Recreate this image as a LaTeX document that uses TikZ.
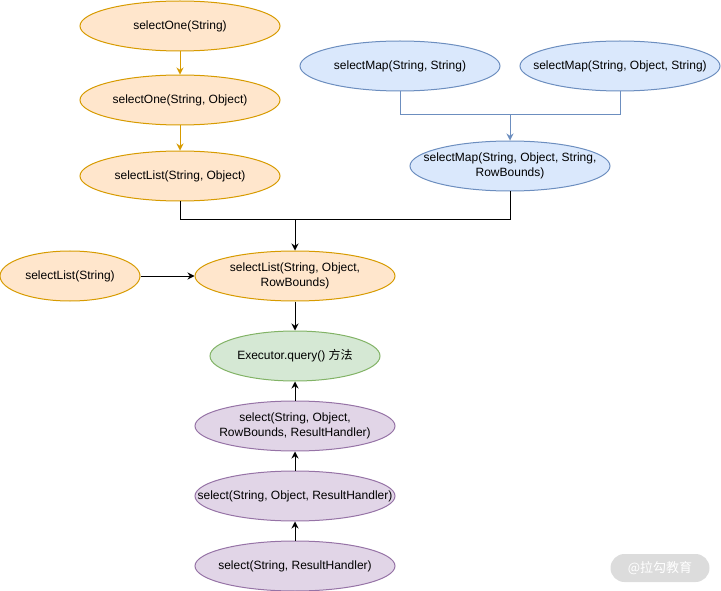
\documentclass[tikz,border=0pt]{standalone}
\usepackage{fontspec}
\setmainfont{Liberation Sans}
\newfontfamily\cjk{Noto Sans CJK SC}
\usetikzlibrary{shapes.geometric,arrows.meta}
\definecolor{ofill}{HTML}{FFE6CC}\definecolor{ostroke}{HTML}{D79B00}
\definecolor{bfill}{HTML}{DAE8FC}\definecolor{bstroke}{HTML}{6C8EBF}
\definecolor{gfill}{HTML}{D5E8D4}\definecolor{gstroke}{HTML}{82B366}
\definecolor{pfill}{HTML}{E1D5E7}\definecolor{pstroke}{HTML}{9673A6}
\definecolor{wmfill}{HTML}{DCDCDC}
\tikzset{
  ell/.style={ellipse, inner sep=0pt, minimum width=200pt, minimum height=50pt, line width=1pt},
  oell/.style={ell, draw=ostroke, fill=ofill},
  bell/.style={ell, draw=bstroke, fill=bfill},
  gell/.style={ell, draw=gstroke, fill=gfill},
  pell/.style={ell, draw=pstroke, fill=pfill},
  txt/.style={align=center, inner sep=0pt, font=\fontsize{12}{15}\selectfont},
  arr/.style={line width=1pt, -{Stealth[length=7pt,width=7pt]}},
  ln/.style={line width=1pt},
}
\begin{document}
\begin{tikzpicture}[x=1pt,y=-1pt]
\useasboundingbox (0,0) rectangle (721,591);
% orange column
\node[oell] (a1) at (180,26) {};
\node[txt] (a1t) at (a1) {selectOne(String)};
\node[oell] (a2) at (180,100) {};
\node[txt] (a2t) at (a2) {selectOne(String, Object)};
\node[oell] (a3) at (180,176) {};
\node[txt] (a3t) at (a3) {selectList(String, Object)};
% blue
\node[bell] (m1) at (400,66) {};
\node[txt] (m1t) at (m1) {selectMap(String, String)};
\node[bell] (m2) at (620,66) {};
\node[txt] (m2t) at (m2) {selectMap(String, Object, String)};
\node[bell] (m3) at (510,166) {};
\node[txt] (m3t) at (m3) {selectMap(String, Object, String,\\RowBounds)};
% middle
\node[oell, minimum width=140pt] (l0) at (70,276) {};
\node[txt] (l0t) at (l0) {selectList(String)};
\node[oell] (l4) at (295,276) {};
\node[txt] (l4t) at (l4) {selectList(String, Object,\\RowBounds)};
\node[gell, minimum width=170pt] (ex) at (295,356) {};
\node[txt] (ext) at (ex) {Executor.query() {\cjk 方法}};
% purple
\node[pell] (p1) at (295,426) {};
\node[txt] (p1t) at (p1) {select(String, Object,\\RowBounds, ResultHandler)};
\node[pell] (p2) at (295,496) {};
\node[txt] (p2t) at (p2) {select(String, Object, ResultHandler)};
\node[pell] (p3) at (295,566) {};
\node[txt] (p3t) at (p3) {select(String, ResultHandler)};
% junctions
\coordinate (jb) at (510,115);
\coordinate (jk) at (295,220);
% connectors
\draw[arr, draw=ostroke, color=ostroke] (a1) -- (a2);
\draw[arr, draw=ostroke, color=ostroke] (a2) -- (a3);
\draw[ln, draw=bstroke] (m1.south) -- (m1.south |- jb) -- (m2.south |- jb) -- (m2.south);
\draw[arr, draw=bstroke, color=bstroke] (jb) -- (m3.north);
\draw[ln] (a3.south) -- (a3.south |- jk) -- (m3.south |- jk) -- (m3.south);
\draw[arr] (jk) -- (l4.north);
\draw[arr] (l0.east) -- (l4.west);
\draw[arr] (l4.south) -- (ex.north);
\draw[arr] (p1.north) -- (ex.south);
\draw[arr] (p2.north) -- (p1.south);
\draw[arr] (p3.north) -- (p2.south);
% watermark
\node[fill=wmfill, rounded corners=14pt, minimum width=99pt, minimum height=28pt, inner sep=0pt, text=white, font=\cjk\fontsize{13}{13}\selectfont] (wm) at (660,568) {@拉勾教育};
\end{tikzpicture}
\end{document}
